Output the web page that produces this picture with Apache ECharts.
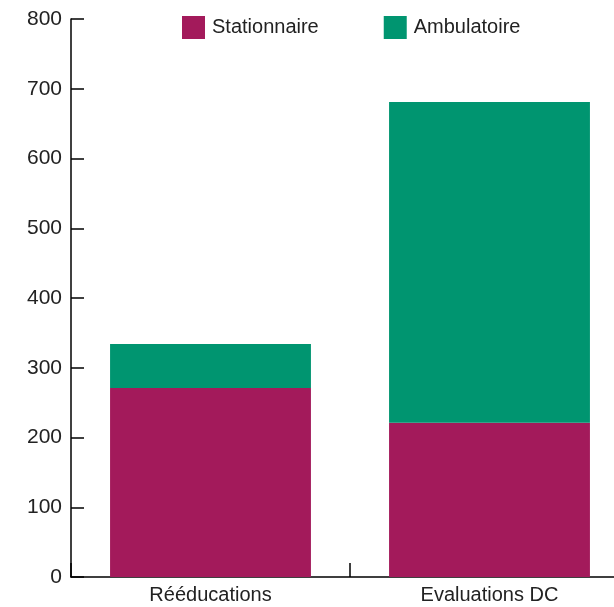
<!DOCTYPE html>
<html>
<head>
<meta charset="utf-8">
<script src="https://cdn.jsdelivr.net/npm/echarts@6/dist/echarts.min.js"></script>
<style>
html,body{margin:0;padding:0;background:#fff;}
#c{width:614px;height:607px;}
</style>
</head>
<body>
<div id="c"></div>
<script>
const categories = ['Rééducations', 'Evaluations DC'];
const stationnaire = [271, 221];
const ambulatoire = [63, 460];
const yTicks = [0, 100, 200, 300, 400, 500, 600, 700, 800];

const chart = echarts.init(document.getElementById('c'), null, {renderer: 'canvas'});
const font = '"Liberation Sans", Arial, Helvetica, sans-serif';
chart.setOption({
  animation: false,
  textStyle: {fontFamily: font},
  legend: {
    top: 11,
    left: 177,
    itemWidth: 23,
    itemHeight: 23,
    itemGap: 65,
    icon: 'rect',
    textStyle: {fontSize: 20, color: '#222', fontFamily: font, padding: [0, 0, 0, 2]},
    data: ['Stationnaire', 'Ambulatoire']
  },
  grid: {left: 71, width: 558, top: 19, bottom: 30, containLabel: false, outerBoundsMode: 'none'},
  xAxis: {
    type: 'category',
    data: categories,
    axisLine: {lineStyle: {color: '#000', width: 1.5}},
    axisTick: {show: true, inside: true, length: 14, lineStyle: {color: '#000', width: 1.5}},
    axisLabel: {fontSize: 20, color: '#222', margin: 8, fontFamily: font}
  },
  yAxis: {
    type: 'value',
    min: 0, max: 800, interval: 100,
    splitLine: {show: false},
    axisLine: {show: true, lineStyle: {color: '#000', width: 1.5}},
    axisTick: {show: true, inside: true, length: 13, lineStyle: {color: '#000', width: 1.5}},
    axisLabel: {fontSize: 21, color: '#222', margin: 9, fontFamily: font,
      formatter: v => yTicks.includes(v) ? String(v) : ''}
  },
  series: [
    {name: 'Stationnaire', type: 'bar', stack: 's', data: stationnaire,
     barCategoryGap: '28%', itemStyle: {color: '#A31A5B'}},
    {name: 'Ambulatoire', type: 'bar', stack: 's', data: ambulatoire,
     barCategoryGap: '28%', itemStyle: {color: '#009570'}}
  ]
});
</script>
</body>
</html>
